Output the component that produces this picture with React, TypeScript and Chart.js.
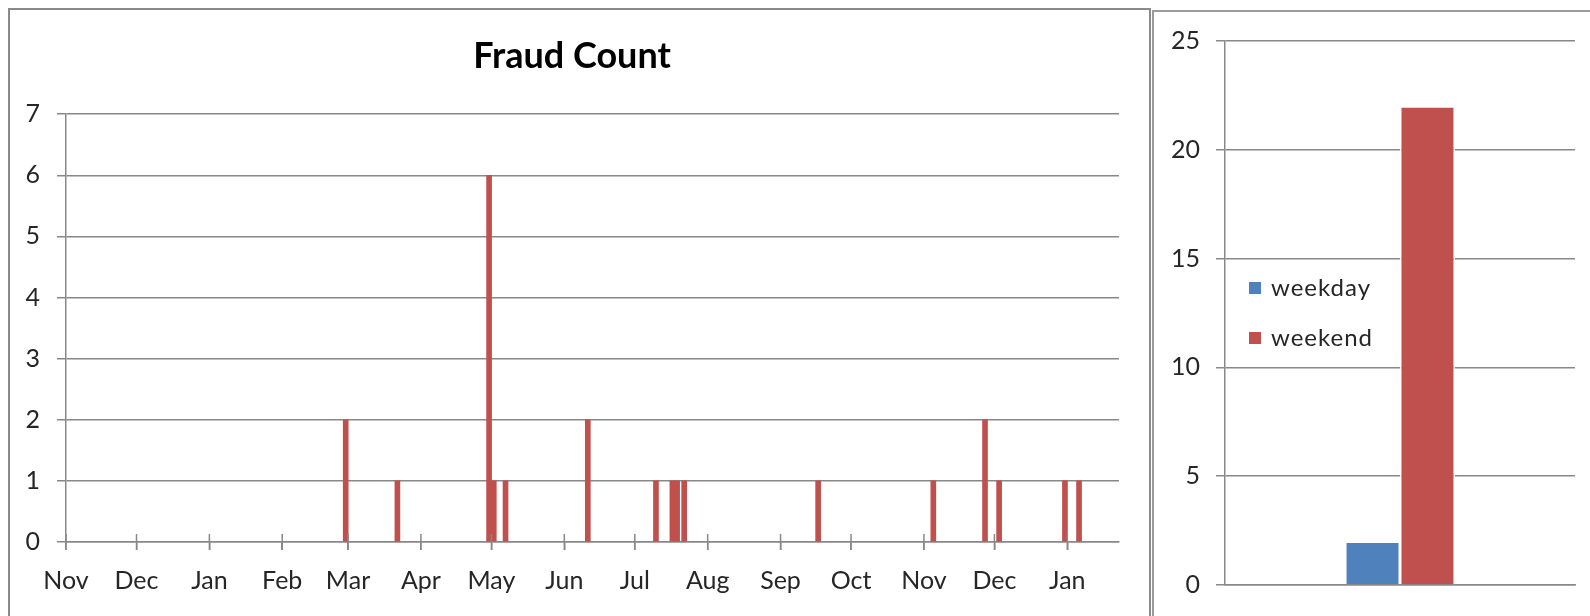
import { useEffect, useRef } from 'react';
import { Chart, registerables } from 'chart.js';

Chart.register(...registerables);

// ---------- Data ----------
const AXIS_START = '2012-11-01';
const AXIS_END = '2014-01-23';

const FRAUD_DATES = [
  '2013-02-28', '2013-03-22', '2013-04-30', '2013-05-02', '2013-05-07',
  '2013-06-11', '2013-07-10', '2013-07-17', '2013-07-19', '2013-07-22',
  '2013-09-17', '2013-11-05', '2013-11-27', '2013-12-03', '2013-12-31',
  '2014-01-06',
];
const FRAUD_COUNTS = [2, 1, 6, 1, 1, 2, 1, 1, 1, 1, 1, 1, 2, 1, 1, 1];

const MONTH_STARTS = [
  '2012-11-01', '2012-12-01', '2013-01-01', '2013-02-01', '2013-03-01',
  '2013-04-01', '2013-05-01', '2013-06-01', '2013-07-01', '2013-08-01',
  '2013-09-01', '2013-10-01', '2013-11-01', '2013-12-01', '2014-01-01',
];
const MONTH_LABELS = [
  'Nov', 'Dec', 'Jan', 'Feb', 'Mar', 'Apr', 'May', 'Jun', 'Jul', 'Aug',
  'Sep', 'Oct', 'Nov', 'Dec', 'Jan',
];

const DAY_TYPES = ['weekday', 'weekend'];
const DAY_TYPE_COUNTS = [2, 22];

const TITLE = 'Fraud Count';

// ---------- Styles ----------
const RED = '#C0504D';
const BLUE = '#4F81BD';
const GRID = '#888888';
const TEXT = '#262626';
const FONT = 'Lato';

const dayIndex = (s: string) => (Date.parse(s) - Date.parse(AXIS_START)) / 86400000;

const crossTicks = {
  id: 'crossTicks',
  afterDatasetsDraw(chart: any) {
    const { ctx, chartArea, scales } = chart;
    const x = scales.x;
    ctx.save();
    ctx.strokeStyle = GRID;
    ctx.lineWidth = 1.5;
    x.ticks.forEach((t: any) => {
      const px = x.getPixelForValue(t.value);
      ctx.beginPath();
      ctx.moveTo(px, chartArea.bottom - 8);
      ctx.lineTo(px, chartArea.bottom + 8);
      ctx.stroke();
    });
    ctx.restore();
  },
};

const insideLegend = {
  id: 'insideLegend',
  afterDraw(chart: any) {
    const { ctx, chartArea } = chart;
    ctx.save();
    chart.data.datasets.forEach((ds: any, i: number) => {
      const y = chartArea.top + 247 + i * 50;
      ctx.fillStyle = ds.backgroundColor;
      ctx.fillRect(chartArea.left + 24, y - 6, 12, 12);
      ctx.fillStyle = TEXT;
      ctx.font = `24px ${FONT}`;
      (ctx as any).letterSpacing = '1px';
      ctx.textBaseline = 'middle';
      ctx.textAlign = 'left';
      ctx.fillText(ds.label, chartArea.left + 46, y);
    });
    ctx.restore();
  },
};

export default function App() {
  const leftRef = useRef<HTMLCanvasElement>(null);
  const rightRef = useRef<HTMLCanvasElement>(null);

  useEffect(() => {
    const tickFont = { family: FONT, size: 25 };

    const left = new Chart(leftRef.current!, {
      type: 'bar',
      data: {
        datasets: [
          {
            label: TITLE,
            data: FRAUD_DATES.map((d, i) => ({ x: dayIndex(d), y: FRAUD_COUNTS[i] })),
            backgroundColor: RED,
            borderWidth: 0,
            barThickness: 5,
          },
        ],
      },
      options: {
        animation: false,
        responsive: false,
        maintainAspectRatio: false,
        layout: { padding: { left: 25, right: 31, top: 0, bottom: 0 } },
        plugins: {
          legend: { display: false },
          tooltip: { enabled: false },
          title: {
            display: true,
            text: TITLE,
            color: '#000',
            font: { family: FONT, size: 36, weight: 'bold' },
            padding: { top: 35, bottom: 36 },
          },
        },
        scales: {
          x: {
            type: 'linear',
            min: 0,
            max: dayIndex(AXIS_END),
            offset: false,
            grid: { drawOnChartArea: false, drawTicks: true, tickLength: 8, color: GRID, lineWidth: 1.5, offset: false },
            border: { display: true, color: GRID, width: 1.5 },
            afterBuildTicks: (s: any) => {
              s.ticks = MONTH_STARTS.map((d) => ({ value: dayIndex(d) }));
            },
            afterFit: (s: any) => {
              s.height = 74;
            },
            ticks: {
              autoSkip: false,
              maxRotation: 0,
              minRotation: 0,
              padding: 16,
              color: TEXT,
              font: tickFont,
              callback: (_v: any, i: number) => MONTH_LABELS[i],
            },
          },
          y: {
            min: 0,
            max: 7,
            grid: { color: GRID, lineWidth: 1.5, tickLength: 9 },
            border: { display: true, color: GRID, width: 1.5 },
            afterFit: (s: any) => {
              s.width = 41;
            },
            ticks: { stepSize: 1, padding: 17, color: TEXT, font: tickFont },
          },
        },
      },
      plugins: [crossTicks],
    } as any);

    const right = new Chart(rightRef.current!, {
      type: 'bar',
      data: {
        labels: [''],
        datasets: DAY_TYPES.map((name, i) => ({
          label: name,
          data: [DAY_TYPE_COUNTS[i]],
          backgroundColor: i === 0 ? BLUE : RED,
          borderColor: '#ffffff',
          borderWidth: 1.5,
          categoryPercentage: 0.314,
          barPercentage: 1,
        })),
      },
      options: {
        animation: false,
        responsive: false,
        maintainAspectRatio: false,
        layout: { padding: { left: 0, right: 15, top: 41, bottom: 0 } },
        plugins: {
          legend: { display: false },
          tooltip: { enabled: false },
          title: { display: false },
        },
        scales: {
          x: {
            grid: { display: false },
            border: { display: true, color: GRID, width: 1.5 },
            ticks: { display: false },
            afterFit: (s: any) => {
              s.height = 30;
            },
          },
          y: {
            min: 0,
            max: 25,
            grid: { color: GRID, lineWidth: 1.5, tickLength: 9 },
            border: { display: true, color: GRID, width: 1.5 },
            afterFit: (s: any) => {
              s.width = 73;
            },
            ticks: { stepSize: 5, padding: 16, color: TEXT, font: tickFont },
          },
        },
      },
      plugins: [insideLegend],
    } as any);

    return () => {
      left.destroy();
      right.destroy();
    };
  }, []);

  return (
    <div
      style={{
        position: 'absolute',
        left: 0,
        top: 0,
        width: 1590,
        height: 616,
        overflow: 'hidden',
        background: '#fff',
      }}
    >
      <canvas ref={leftRef} width={1150} height={616} style={{ position: 'absolute', left: 0, top: 0 }} />
      <canvas ref={rightRef} width={438} height={616} style={{ position: 'absolute', left: 1152, top: 0 }} />
      <div
        style={{
          position: 'absolute',
          left: 8,
          top: 8,
          width: 1143,
          height: 700,
          border: '2px solid #8a8a8a',
          boxSizing: 'border-box',
        }}
      />
      <div
        style={{
          position: 'absolute',
          left: 1152,
          top: 10,
          width: 500,
          height: 700,
          border: '2px solid #9a9a9a',
          boxSizing: 'border-box',
        }}
      />
    </div>
  );
}
